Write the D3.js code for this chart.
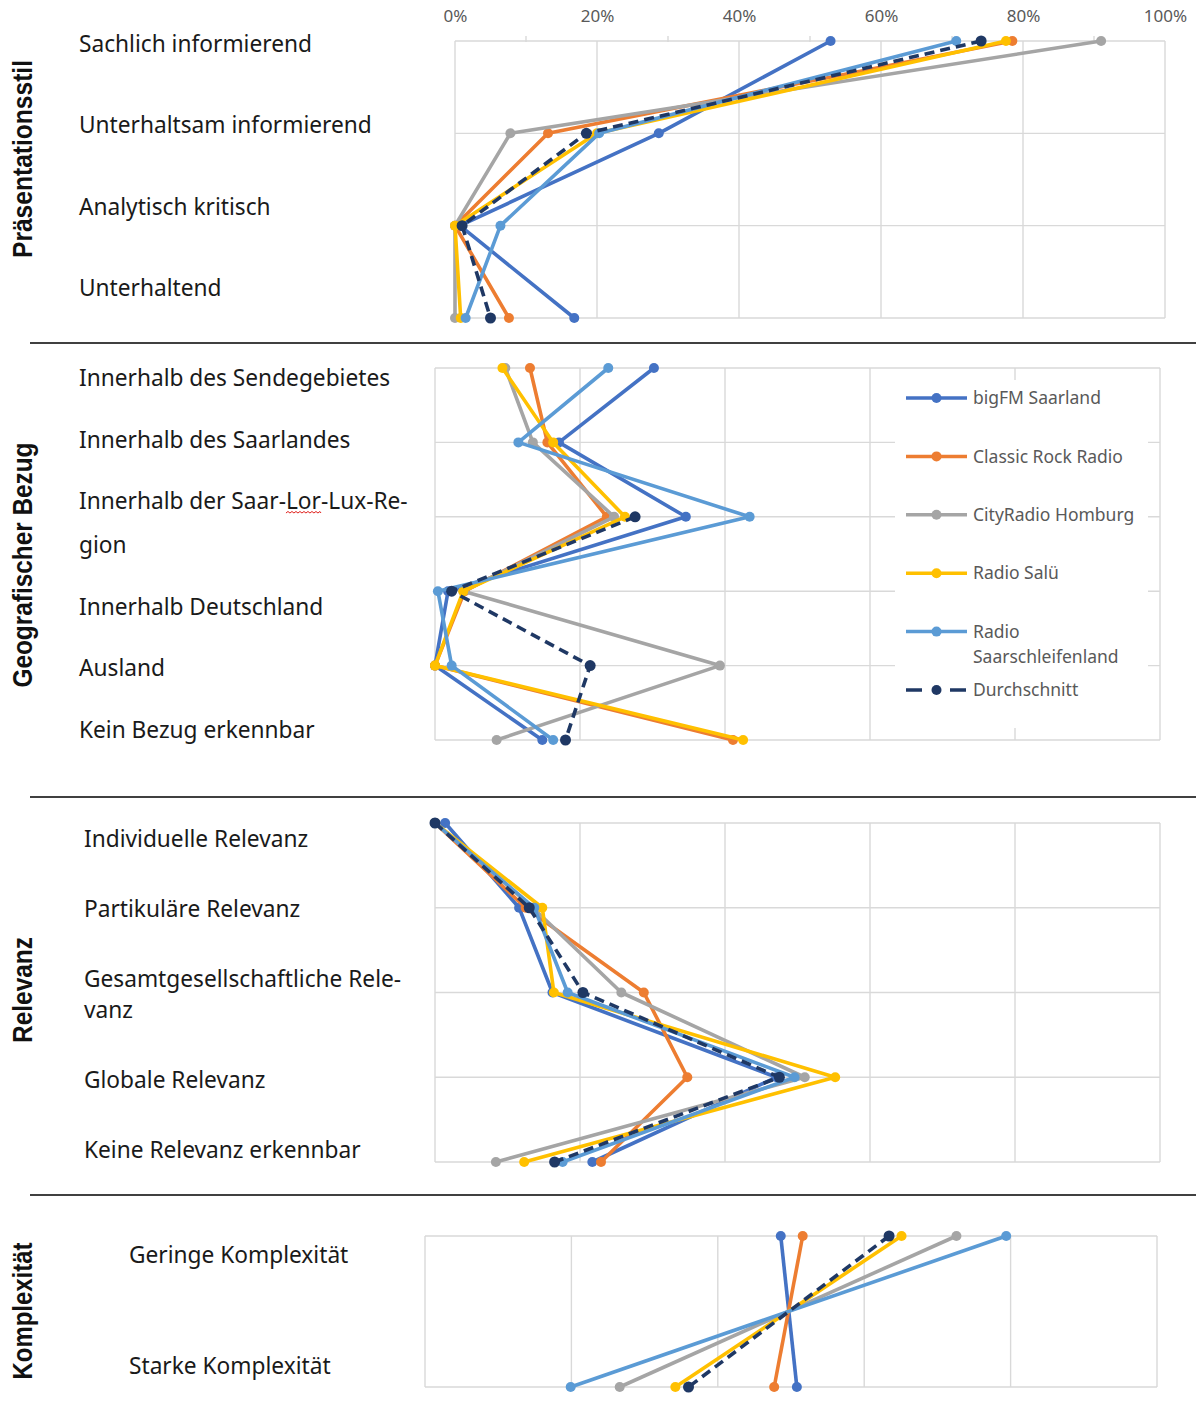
<!DOCTYPE html>
<html><head><meta charset="utf-8">
<script src="https://cdn.jsdelivr.net/npm/d3@7"></script>
<style>body{margin:0;background:#fff}svg{display:block}</style>
</head><body>
<svg id="c" width="1198" height="1409"></svg>
<script>
// ---------- data ----------
const seriesNames = ["bigFM Saarland","Classic Rock Radio","CityRadio Homburg","Radio Salü","Radio Saarschleifenland","Durchschnitt"];
const percentTicks = [0,20,40,60,80,100];
const minorTicks = [10,30,50,70,90];

const praesCategories = ["Sachlich informierend","Unterhaltsam informierend","Analytisch kritisch","Unterhaltend"];
const praesValues = [
  [52.9, 28.7, 0.7, 16.8],
  [78.5, 13.1, 0.0, 7.6],
  [91.0, 7.8, 0.0, 0.0],
  [77.6, 20.0, 0.0, 0.8],
  [70.6, 20.3, 6.4, 1.5],
  [74.1, 18.5, 1.0, 5.0]
];

const geoCategories = ["Innerhalb des Sendegebietes","Innerhalb des Saarlandes","Innerhalb der Saar-Lor-Lux-Re-\ngion","Innerhalb Deutschland","Ausland","Kein Bezug erkennbar"];
const geoValues = [
  [30.2, 17.1, 34.6, 1.8, 0.0, 14.8],
  [13.1, 15.5, 23.7, 4.1, 0.0, 41.1],
  [9.7, 13.5, 24.7, 3.9, 39.3, 8.5],
  [9.3, 16.3, 26.2, 3.9, 0.0, 42.5],
  [23.9, 11.5, 43.4, 0.4, 2.3, 16.3],
  [null, null, 27.6, 2.3, 21.4, 18.0]
];

const relCategories = ["Individuelle Relevanz","Partikuläre Relevanz","Gesamtgesellschaftliche Rele-\nvanz","Globale Relevanz","Keine Relevanz erkennbar"];
const relValues = [
  [1.4, 11.6, 16.2, 47.1, 21.7],
  [0.0, 12.5, 28.8, 34.8, 22.9],
  [0.0, 13.5, 25.7, 51.0, 8.4],
  [0.0, 14.8, 16.4, 55.2, 12.3],
  [0.0, 13.7, 18.3, 49.6, 17.6],
  [0.0, 13.0, 20.4, 47.5, 16.5]
];

const kompCategories = ["Geringe Komplexität","Starke Komplexität"];
const kompValues = [
  [48.6, 50.8],
  [51.6, 47.7],
  [72.6, 26.6],
  [65.1, 34.2],
  [79.4, 19.9],
  [63.4, 36.0]
];

const sectionTitles = ["Präsentationsstil","Geografischer Bezug","Relevanz","Komplexität"];

// ---------- style ----------
const seriesColors = ["#4472C4","#ED7D31","#A5A5A5","#FFC000","#5B9BD5","#1F3864"];
const gridColor = "#d9d9d9";
const labelFont = "'Noto Sans', sans-serif";

const svg = d3.select("#c");

const panels = [
  {cats: praesCategories, vals: praesValues, title: sectionTitles[0], x0:455, x1:1165, y0:41, y1:318,
   labelX:79, labelY0:44, labelStep:81.3, lineGap:44, titleY:159, titleLen:198, axis:true},
  {cats: geoCategories, vals: geoValues, title: sectionTitles[1], x0:435, x1:1160, y0:368, y1:740,
   labelX:79, labelY0:378, labelStep:61.5, lineGap:44, titleY:565, titleLen:245, legend:true},
  {cats: relCategories, vals: relValues, title: sectionTitles[2], x0:435, x1:1160, y0:823, y1:1162,
   labelX:84, labelY0:839, labelStep:70, lineGap:31, titleY:990, titleLen:106},
  {cats: kompCategories, vals: kompValues, title: sectionTitles[3], x0:425, x1:1157, y0:1236, y1:1387,
   labelX:129, labelY0:1255, labelStep:111, lineGap:31, titleY:1311, titleLen:137}
];

// separators
[343, 797, 1195].forEach(yy => {
  svg.append("line").attr("x1",30).attr("x2",1196).attr("y1",yy).attr("y2",yy)
    .attr("stroke","#404040").attr("stroke-width",2);
});

panels.forEach(p => {
  const x = d3.scaleLinear().domain([0,100]).range([p.x0, p.x1]);
  const y = d3.scalePoint().domain(p.cats).range([p.y0, p.y1]);
  const g = svg.append("g");

  // section title
  g.append("text")
    .attr("transform", `translate(32,${p.titleY}) rotate(-90)`)
    .attr("text-anchor","middle")
    .attr("font-family","'Liberation Sans', Arial, sans-serif")
    .attr("font-weight","bold")
    .attr("font-size",27)
    .attr("textLength", p.titleLen)
    .attr("lengthAdjust","spacingAndGlyphs")
    .attr("fill","#111")
    .text(p.title);

  // category labels
  let extra = 0;
  p.cats.forEach((c, i) => {
    const lines = c.split("\n");
    lines.forEach((ln, k) => {
      const cy = p.labelY0 + i * p.labelStep + extra + k * p.lineGap;
      const t = g.append("text")
        .attr("x", p.labelX).attr("y", cy).attr("dy","0.36em")
        .attr("font-family", labelFont).attr("font-size", 22.7)
        .attr("fill","#1a1a1a").text(ln);
      const idx = ln.indexOf("Lor");
      if (idx >= 0) {
        const node = t.node();
        const sx = node.getStartPositionOfChar(idx).x;
        const len = node.getSubStringLength(idx, 3);
        let d = `M${sx},${cy+12}`;
        for (let xx = sx, up = true; xx < sx + len; xx += 2, up = !up) {
          d += ` L${Math.min(xx+2, sx+len)},${cy + (up ? 10.5 : 12)}`;
        }
        g.append("path").attr("d", d).attr("fill","none").attr("stroke","#e0201c").attr("stroke-width",1);
      }
    });
    extra += (lines.length - 1) * p.lineGap;
  });

  // grid
  g.selectAll(".vg").data(percentTicks).join("line")
    .attr("x1", d => x(d)).attr("x2", d => x(d)).attr("y1", p.y0).attr("y2", p.y1)
    .attr("stroke", gridColor).attr("stroke-width", 1.4);
  g.selectAll(".hg").data(p.cats).join("line")
    .attr("x1", p.x0).attr("x2", p.x1).attr("y1", d => y(d)).attr("y2", d => y(d))
    .attr("stroke", gridColor).attr("stroke-width", 1.4);

  if (p.axis) {
    g.selectAll(".mt").data(minorTicks).join("line")
      .attr("x1", d => x(d)).attr("x2", d => x(d)).attr("y1", p.y0 - 5).attr("y2", p.y0 + 1)
      .attr("stroke", gridColor).attr("stroke-width", 1.4);
    const ax = g.append("g").attr("transform", `translate(0,${p.y0})`)
      .call(d3.axisTop(x).tickValues(percentTicks).tickFormat(d => d + "%").tickSize(0).tickPadding(19));
    ax.select(".domain").remove();
    ax.selectAll("text").attr("font-family", labelFont).attr("font-size", 17).attr("fill", "#595959");
  }

  if (p.legend) {
    g.append("rect").attr("x", 895).attr("y", 380).attr("width", 253).attr("height", 348).attr("fill", "#fff");
    const lg = g.append("g");
    seriesNames.forEach((n, i) => {
      const ly = 398 + i * 58.4;
      const col = seriesColors[i];
      lg.append("line").attr("x1", 906).attr("x2", 967).attr("y1", ly).attr("y2", ly)
        .attr("stroke", col).attr("stroke-width", 3.5)
        .attr("stroke-dasharray", i === 5 ? "16,28" : null);
      lg.append("circle").attr("cx", 936.5).attr("cy", ly).attr("r", 5).attr("fill", col);
      const parts = n.length > 20 ? [n.slice(0, n.indexOf(" ")), n.slice(n.indexOf(" ") + 1)] : [n];
      parts.forEach((pt, k) => {
        lg.append("text").attr("x", 973).attr("y", ly + k * 25).attr("dy", "0.35em")
          .attr("font-family", labelFont).attr("font-size", 17.5).attr("fill", "#595959").text(pt);
      });
    });
  }

  // series
  p.vals.forEach((vals, si) => {
    const pts = vals.map((v, j) => ({v, c: p.cats[j]}));
    const line = d3.line().defined(d => d.v != null).x(d => x(d.v)).y(d => y(d.c));
    g.append("path").datum(pts).attr("d", line).attr("fill", "none")
      .attr("stroke", seriesColors[si]).attr("stroke-width", 3.6)
      .attr("stroke-linejoin", "round")
      .attr("stroke-dasharray", si === 5 ? "10,6" : null);
    g.selectAll(null).data(pts.filter(d => d.v != null)).join("circle")
      .attr("cx", d => x(d.v)).attr("cy", d => y(d.c)).attr("r", si === 5 ? 5.5 : 5)
      .attr("fill", seriesColors[si]);
  });
});
</script>
</body></html>
